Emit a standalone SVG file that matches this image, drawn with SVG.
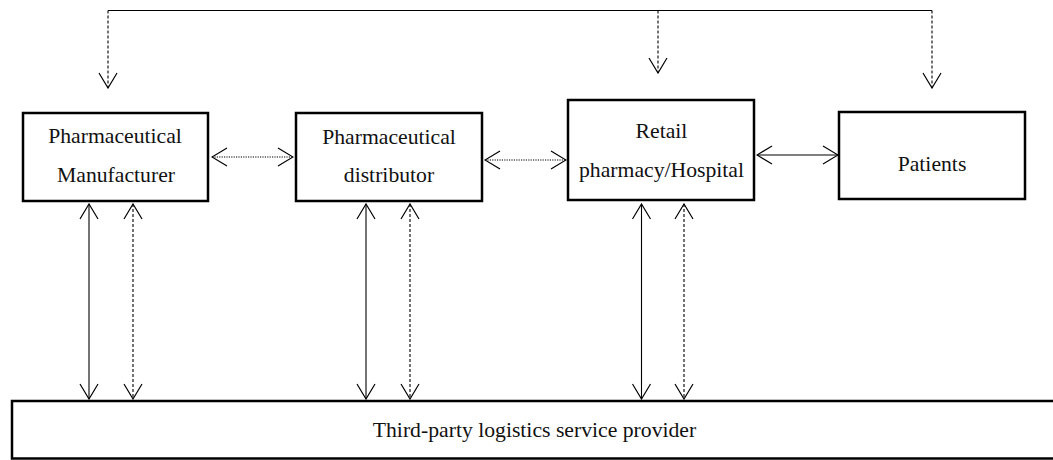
<svg xmlns="http://www.w3.org/2000/svg" width="1053" height="460" viewBox="0 0 1053 460">
<style>
.box{fill:#fff;stroke:#000;stroke-width:2.5}
.lbl{font-family:"Liberation Serif","Times New Roman",serif;font-size:21.7px;fill:#111;text-anchor:middle}
.ln{fill:none;stroke:#000;stroke-width:1.1}
.dash{stroke-dasharray:3,2}
.dot{stroke-dasharray:1.2,1.2}
.m1{marker-end:url(#ah)}
.m2{marker-start:url(#ah);marker-end:url(#ah)}
</style>
<defs>
<marker id="ah" viewBox="0 0 17 20" refX="16" refY="10" markerWidth="17" markerHeight="20" markerUnits="userSpaceOnUse" orient="auto-start-reverse">
<path d="M1,1 L16,10 L1,19" fill="none" stroke="#000" stroke-width="1.2" stroke-dasharray="none"/>
</marker>
</defs>
<rect width="1053" height="460" fill="#fff"/>
<g id="connectors">
<path class="ln" d="M108,10.5 H932"/>
<path class="ln dash m1" d="M108,10.5 V88"/>
<path class="ln dash m1" d="M658,10.5 V73"/>
<path class="ln dash m1" d="M932,10.5 V88"/>
<path class="ln dot m2" d="M212,157 H293"/>
<path class="ln dot m2" d="M485,160 H566"/>
<path class="ln m2" d="M757,155 H838"/>
<path class="ln m2" d="M89,204 V399"/>
<path class="ln dash m2" d="M133,204 V399"/>
<path class="ln m2" d="M366,204 V399"/>
<path class="ln dash m2" d="M410,204 V399"/>
<path class="ln m2" d="M641.5,204 V399"/>
<path class="ln dash m2" d="M684,204 V399"/>
</g>
<g id="manufacturer">
<rect class="box" x="23" y="113" width="185" height="88"/>
<text class="lbl" x="115" y="143">Pharmaceutical</text>
<text class="lbl" x="116" y="182">Manufacturer</text>
</g>
<g id="distributor">
<rect class="box" x="296" y="113" width="186" height="88"/>
<text class="lbl" x="389" y="144">Pharmaceutical</text>
<text class="lbl" x="389" y="182">distributor</text>
</g>
<g id="retail">
<rect class="box" x="568" y="100" width="186" height="100"/>
<text class="lbl" x="661.5" y="138">Retail</text>
<text class="lbl" x="661.5" y="177">pharmacy/Hospital</text>
</g>
<g id="patients">
<rect class="box" x="839" y="112" width="186" height="87"/>
<text class="lbl" x="932" y="171">Patients</text>
</g>
<g id="logistics">
<rect class="box" x="12" y="401" width="1045" height="57.5"/>
<text class="lbl" x="534.5" y="437">Third-party logistics service provider</text>
</g>
</svg>
